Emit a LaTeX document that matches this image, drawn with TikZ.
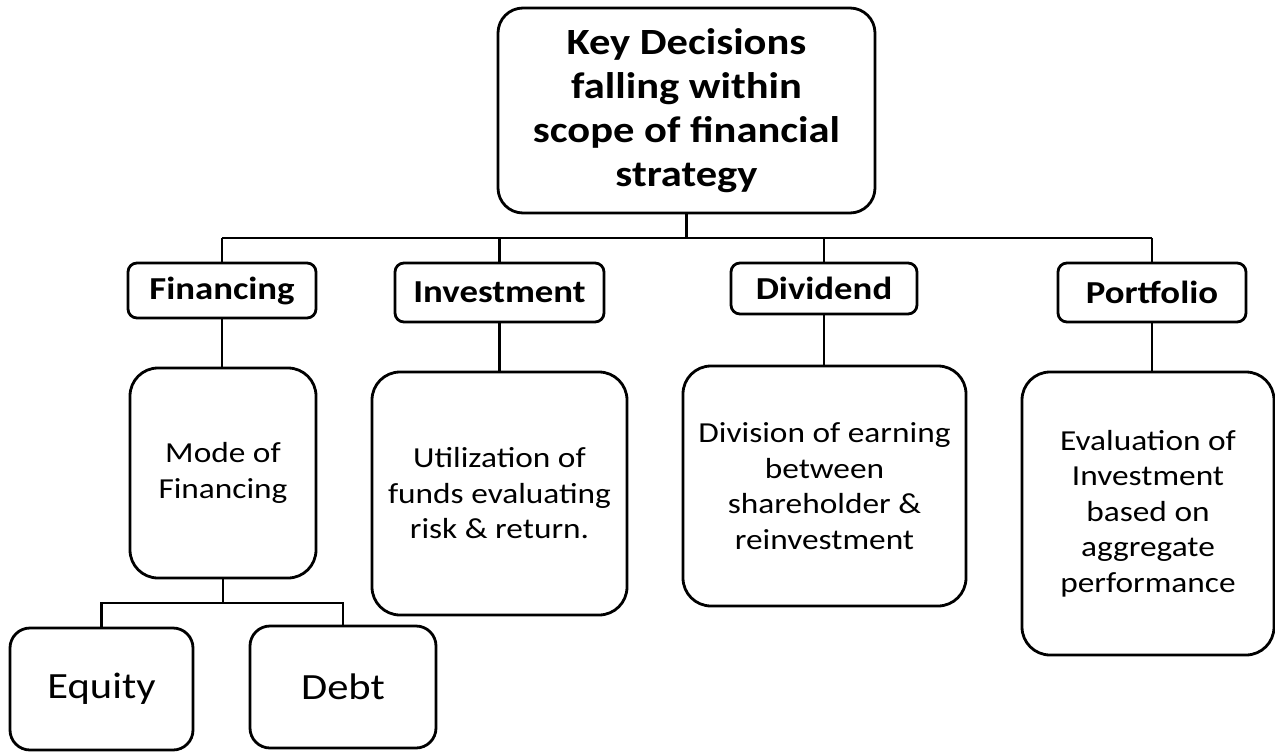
\documentclass[tikz,border=0pt]{standalone}
\usepackage{fontspec}
\setmainfont[FakeStretch=1.15]{Carlito}
\begin{document}
\begin{tikzpicture}[x=1pt,y=-1pt,
  box/.style={draw, line width=2.8pt, rounded corners=#1, inner sep=0pt, align=center},
  box/.default=10pt,
  head/.style={font=\fontsize{32}{38}\selectfont\bfseries},
  body/.style={font=\fontsize{29}{35.5}\selectfont},
  conn/.style={line width=2.8pt}]
\useasboundingbox (0,0) rectangle (1275,753);
% top
\node[box=25pt, minimum width=377pt, minimum height=205pt, font=\fontsize{37}{44}\selectfont\bfseries]
  (top) at (686.5,110.5) {Key Decisions\\falling within\\scope of financial\\strategy};
% level 1
\node[box=9pt, head, minimum width=188pt, minimum height=55pt] (fin) at (222,290.5) {Financing};
\node[box=9pt, head, minimum width=209pt, minimum height=59pt] (inv) at (499.5,292.5) {Investment};
\node[box=9pt, head, minimum width=186pt, minimum height=51pt] (div) at (824,288.5) {Dividend};
\node[box=9pt, head, minimum width=188pt, minimum height=59pt] (por) at (1152,292.5) {Portfolio};
% level 2
\node[box=28pt, body, minimum width=186pt, minimum height=210pt]
  (mode) at (223,473) {Mode of\\Financing};
\node[box=28pt, body, minimum width=255pt, minimum height=243pt]
  (uti) at (499.5,493.5) {Utilization of\\funds evaluating\\risk \& return.};
\node[box=28pt, body, minimum width=283pt, minimum height=240pt]
  (dvn) at (824.5,486) {Division of earning\\between\\shareholder \&\\reinvestment};
\node[box=28pt, body, minimum width=252pt, minimum height=283pt]
  (eva) at (1148,513.5) {Evaluation of\\Investment\\based on\\aggregate\\performance};
% level 3
\node[box=20pt, minimum width=183pt, minimum height=122pt, font=\fontsize{37}{44}\selectfont]
  (equ) at (101.5,689) {Equity};
\node[box=20pt, minimum width=186pt, minimum height=122pt, font=\fontsize{37}{44}\selectfont]
  (deb) at (343,687) {Debt};
% connectors
\coordinate (busL) at (222,238);
\coordinate (busR) at (1152,238);
\draw[conn] (busL) -- (busR);
\draw[conn] (top.south) -- (top.south |- busL);
\draw[conn] (fin.north) -- (fin.north |- busL);
\draw[conn] (inv.north) -- (inv.north |- busL);
\draw[conn] (div.north) -- (div.north |- busL);
\draw[conn] (por.north) -- (por.north |- busL);
\draw[conn] (fin.south) -- (fin.south |- mode.north);
\draw[conn] (inv.south) -- (inv.south |- uti.north);
\draw[conn] (div.south) -- (div.south |- dvn.north);
\draw[conn] (por.south) -- (por.south |- eva.north);
\coordinate (bus2) at (223,603);
\draw[conn] (mode.south) -- (bus2);
\draw[conn] (equ.north) -- (equ.north |- bus2) -- (deb.north |- bus2) -- (deb.north);
\end{tikzpicture}
\end{document}
